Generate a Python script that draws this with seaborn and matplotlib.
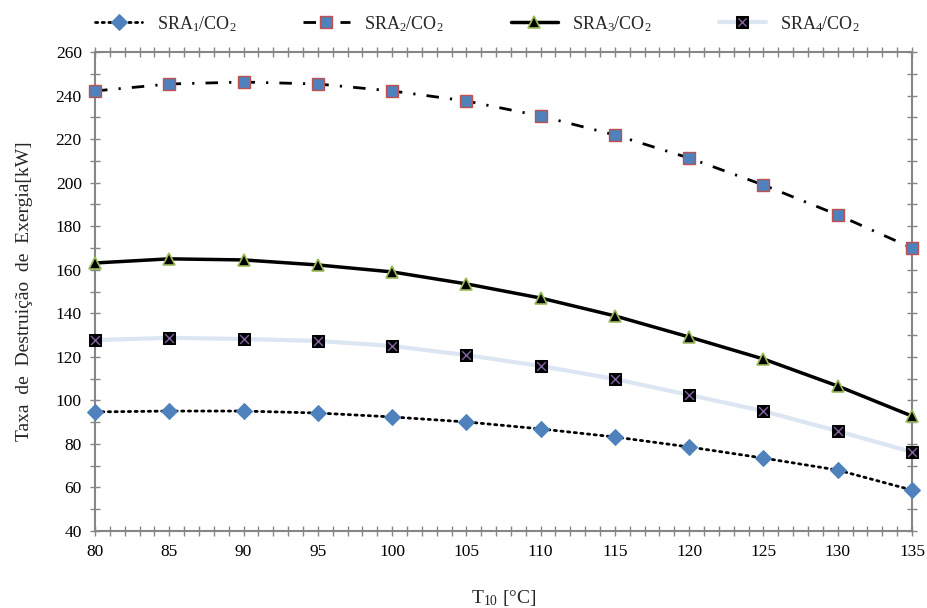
import matplotlib
matplotlib.use("Agg")
import matplotlib.pyplot as plt
import seaborn as sns
import pandas as pd
from matplotlib.ticker import MultipleLocator

# ---- data ----
t10 = [80, 85, 90, 95, 100, 105, 110, 115, 120, 125, 130, 135]
sra1 = [94.7, 95.1, 95.1, 94.2, 92.4, 90.1, 86.9, 83.2, 78.6, 73.5, 68.0, 58.8]
sra2 = [242.1, 245.3, 246.2, 245.3, 242.1, 237.5, 230.6, 221.9, 211.3, 198.9, 185.2, 170.0]
sra3 = [163.1, 165.0, 164.5, 162.2, 159.0, 153.5, 147.0, 138.8, 129.1, 119.0, 106.6, 92.8]
sra4 = [127.7, 128.7, 128.2, 127.3, 125.0, 120.8, 115.8, 109.8, 102.5, 95.1, 85.9, 76.3]
labels = ["SRA$_1$/CO$_2$", "SRA$_2$/CO$_2$", "SRA$_3$/CO$_2$", "SRA$_4$/CO$_2$"]

df = pd.DataFrame({"T10": t10, "SRA1": sra1, "SRA2": sra2, "SRA3": sra3, "SRA4": sra4})

sns.set_theme(style="white")
plt.rcParams["font.family"] = ["Liberation Serif", "DejaVu Serif"]
plt.rcParams["mathtext.fontset"] = "custom"
plt.rcParams["mathtext.rm"] = "Liberation Serif"
plt.rcParams["mathtext.it"] = "Liberation Serif"

fig = plt.figure(figsize=(9.27, 6.08), dpi=100)
ax = fig.add_axes([0.1025, 0.1266, 0.8813, 0.7879])

blue = "#4F81BD"
red = "#C0504D"
green = "#9BBB59"
purple = "#8064A2"
lightblue = "#DCE6F2"

sns.lineplot(data=df, x="T10", y="SRA1", ax=ax, color="black", lw=2.0,
             marker="D", markersize=8.5, markerfacecolor=blue, markeredgecolor=blue,
             dashes=False, zorder=3)
ax.lines[-1].set_linestyle((0, (0.8, 1.6)))
ax.lines[-1].set_dash_capstyle("round")
l1 = ax.lines[-1]

sns.lineplot(data=df, x="T10", y="SRA2", ax=ax, color="black", lw=2.0,
             marker="s", markersize=8, markerfacecolor=blue, markeredgecolor=red,
             markeredgewidth=1.0, zorder=3)
ax.lines[-1].set_linestyle((0, (4.5, 4, 0.8, 4)))
l2 = ax.lines[-1]

sns.lineplot(data=df, x="T10", y="SRA3", ax=ax, color="black", lw=2.5,
             marker="^", markersize=8, markerfacecolor="black", markeredgecolor=green,
             markeredgewidth=1.2, zorder=3)
l3 = ax.lines[-1]

sns.lineplot(data=df, x="T10", y="SRA4", ax=ax, color=lightblue, lw=3.0,
             marker="s", markersize=8, markerfacecolor="black", markeredgecolor="black",
             zorder=3)
l4 = ax.lines[-1]
sns.scatterplot(data=df, x="T10", y="SRA4", ax=ax, marker="x", color=purple,
                s=40, linewidth=1.0, zorder=4)
l4x, = ax.plot([], [], ls="none", marker="x", color=purple, markersize=6, mew=1.0)

for ln in ax.lines:
    ln.set_clip_on(False)
for c in ax.collections:
    c.set_clip_on(False)

ax.set_xlim(80, 135)
ax.set_ylim(40, 260)
ax.xaxis.set_major_locator(MultipleLocator(5))
ax.xaxis.set_minor_locator(MultipleLocator(1))
ax.yaxis.set_major_locator(MultipleLocator(20))
ax.yaxis.set_minor_locator(MultipleLocator(10))

gray = "#868686"
for sp in ax.spines.values():
    sp.set_color(gray)
    sp.set_linewidth(1.5)
ax.tick_params(which="both", direction="inout", length=7, width=1.0, color=gray,
               top=True, right=True, bottom=True, left=True,
               labelsize=12.5, labelcolor="black", pad=6)

ax.set_xlabel("T$_{10}$ [°C]", fontsize=14, labelpad=20)
ax.set_ylabel("Taxa  de  Destruição  de  Exergia[kW]", fontsize=14, labelpad=16)

fig.legend([l1, l2, l3, (l4, l4x)], labels, loc="upper center",
           bbox_to_anchor=(0.515, 1.004), ncol=4, frameon=False, fontsize=13,
           columnspacing=3.7, handlelength=2.6, handletextpad=0.8)

fig.savefig("out.png", dpi=100)
